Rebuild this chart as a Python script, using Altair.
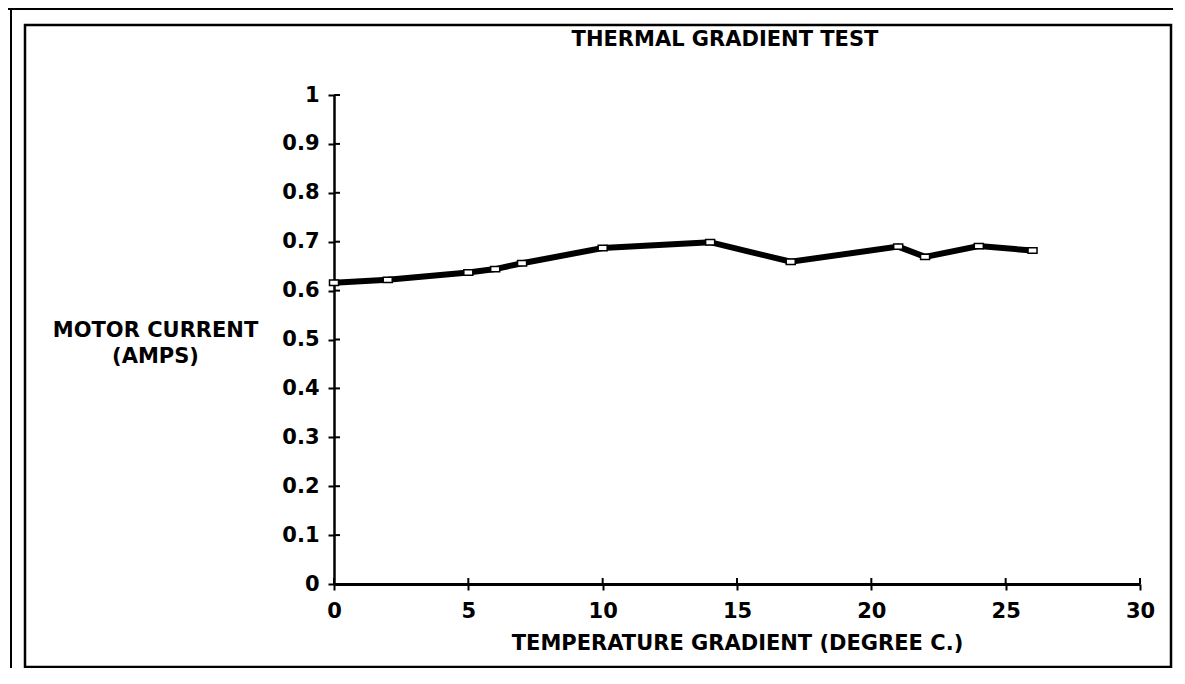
import altair as alt
import pandas as pd

# ---- data ----
temperature = [0, 2, 5, 6, 7, 10, 14, 17, 21, 22, 24, 26]
motor_current = [0.616, 0.622, 0.637, 0.644, 0.656, 0.687, 0.699, 0.659, 0.690, 0.669, 0.691, 0.682]
x_ticks = [0, 5, 10, 15, 20, 25, 30]
y_ticks = [0, 0.1, 0.2, 0.3, 0.4, 0.5, 0.6, 0.7, 0.8, 0.9, 1.0]
title_text = "THERMAL GRADIENT TEST"
x_title = "TEMPERATURE GRADIENT (DEGREE C.)"
y_title = ["MOTOR CURRENT", "(AMPS)"]

df = pd.DataFrame({"temp": temperature, "amps": motor_current})
xt_df = pd.DataFrame({"temp": x_ticks})
yt_df = pd.DataFrame({"amps": y_ticks})
frame_df = pd.DataFrame({"k": [0]})

FONT = "DejaVu Sans"
FS = 21
W, H = 806, 489

xs = alt.Scale(domain=[0, 30], nice=False, zero=False)
ys = alt.Scale(domain=[0, 1], nice=False)

x_axis = alt.Axis(
    orient="bottom",
    values=x_ticks,
    format="d",
    title=x_title,
    tickSize=6,
    tickWidth=2,
    domainWidth=3,
    labelPadding=10,
    labelFlush=False,
    titleY=59,
    titleBaseline="middle",
)
y_axis = alt.Axis(
    orient="left",
    values=y_ticks,
    format=".1~f",
    title=y_title,
    titleAngle=0,
    titleAlign="center",
    titleBaseline="top",
    titleX=-179,
    titleY=224,
    titleLineHeight=26,
    tickSize=6,
    tickWidth=2,
    domainWidth=2.5,
    labelPadding=9,
    labelFlush=False,
)

# ---- main line ----
line = alt.Chart(df).mark_line(color="black", strokeWidth=6).encode(
    x=alt.X("temp:Q", scale=xs, axis=x_axis),
    y=alt.Y("amps:Q", scale=ys, axis=y_axis),
)

points = alt.Chart(df).mark_point(
    shape="M-1,-0.6L1,-0.6L1,0.6L-1,0.6Z",
    size=81,
    filled=True,
    fill="white",
    stroke="black",
    strokeWidth=1.5,
    opacity=1,
).encode(
    x=alt.X("temp:Q", scale=xs, axis=x_axis),
    y=alt.Y("amps:Q", scale=ys, axis=y_axis),
)

# ---- inner halves of the cross-shaped ticks ----
x_inner_ticks = alt.Chart(xt_df).mark_rule(color="black", strokeWidth=2).encode(
    x=alt.X("temp:Q", scale=xs, axis=x_axis),
    y=alt.value(H - 6),
    y2=alt.value(H),
)
y_inner_ticks = alt.Chart(yt_df).mark_rule(color="black", strokeWidth=2).encode(
    y=alt.Y("amps:Q", scale=ys, axis=y_axis),
    x=alt.value(0),
    x2=alt.value(6),
)

# ---- page frame (scanned border) ----
outer_top = alt.Chart(frame_df).mark_rule(color="black", strokeWidth=2).encode(
    x=alt.value(-326), x2=alt.value(839), y=alt.value(-86)
)
outer_left = alt.Chart(frame_df).mark_rule(color="black", strokeWidth=2).encode(
    x=alt.value(-323), y=alt.value(-86), y2=alt.value(573)
)
inner_box = alt.Chart(frame_df).mark_rect(
    fill="white", fillOpacity=0, stroke="black", strokeWidth=2.5
).encode(
    x=alt.value(-309), x2=alt.value(837), y=alt.value(-70), y2=alt.value(572)
)

chart = (
    alt.layer(line, points, x_inner_ticks, y_inner_ticks, outer_top, outer_left, inner_box)
    .properties(
        width=W,
        height=H,
        autosize=alt.AutoSizeParams(type="none"),
        padding={"left": 326, "top": 87, "right": 33, "bottom": 84},
        title=alt.TitleParams(
            text=title_text,
            frame="group",
            anchor="middle",
            baseline="alphabetic",
            offset=-59,
            dx=-12,
            font=FONT,
            fontSize=FS,
            fontWeight="bold",
            color="black",
        ),
        background="white",
    )
    .configure_view(strokeWidth=0)
    .configure_axis(
        grid=False,
        domainColor="black",
        tickColor="black",
        labelColor="black",
        titleColor="black",
        labelFont=FONT,
        titleFont=FONT,
        labelFontSize=FS,
        titleFontSize=FS,
        labelFontWeight="bold",
        titleFontWeight="bold",
    )
)

chart.save("out.html", embed_options={"renderer": "svg", "actions": False})
